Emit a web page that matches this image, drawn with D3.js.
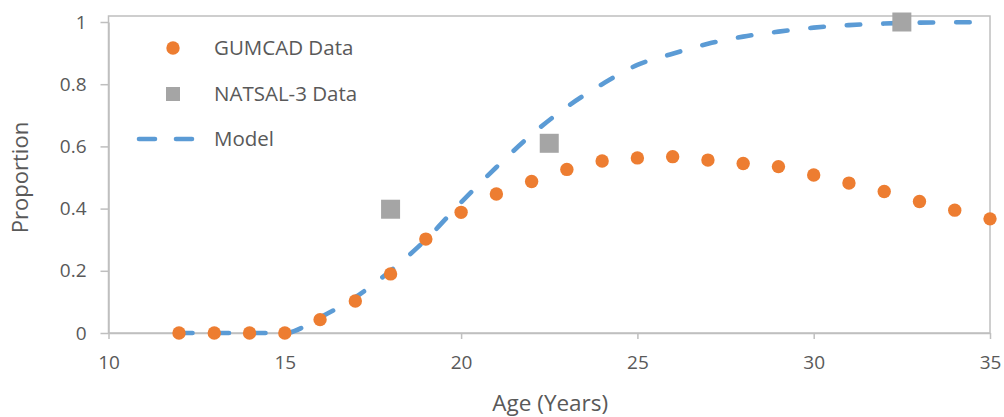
<!DOCTYPE html>
<html>
<head>
<meta charset="utf-8">
<script src="https://cdn.jsdelivr.net/npm/d3@7"></script>
<style>
  html, body { margin: 0; padding: 0; background: #fff; }
  svg { display: block; }
  text { font-family: "Open Sans", "Noto Sans", sans-serif; fill: #595959; }
</style>
</head>
<body>
<svg id="chart" width="1004" height="417"></svg>
<script>
// ---- Data ----
const gumcadAges = [12,13,14,15,16,17,18,19,20,21,22,23,24,25,26,27,28,29,30,31,32,33,34,35];
const gumcadValues = [0,0,0,0,0.043,0.103,0.19,0.302,0.388,0.447,0.487,0.526,0.553,0.563,0.567,0.556,0.545,0.535,0.508,0.482,0.455,0.423,0.395,0.367];

const natsalAges = [18, 22.5, 32.5];
const natsalValues = [0.398, 0.61, 1.0];

const modelAges = [12,13,14,15,16,17,18,19,20,21,22,23,24,25,26,27,28,29,30,31,32,33,34,35];
const modelValues = [0,0,0,0,0.05,0.115,0.2,0.3,0.42,0.533,0.638,0.727,0.80,0.862,0.898,0.93,0.953,0.969,0.982,0.99,0.995,0.998,0.999,1.0];

const xTicks = [10,15,20,25,30,35];
const yTicks = [0,0.2,0.4,0.6,0.8,1];
const yTickLabels = ["0","0.2","0.4","0.6","0.8","1"];

const legendLabels = ["GUMCAD Data","NATSAL-3 Data","Model"];

// ---- Colours ----
const orange = "#ED7D31", grey = "#A5A5A5", blue = "#5B9BD5", axisCol = "#BFBFBF";

const svg = d3.select("#chart");
const x = d3.scaleLinear().domain([10,35]).range([108.5,990]);
const y = d3.scaleLinear().domain([0,1]).range([333,22]);

// Frame (plot border)
const topY = y(1) - 6;
svg.append("rect")
  .attr("x", x(10)).attr("y", topY)
  .attr("width", x(35) - x(10)).attr("height", y(0) - topY)
  .attr("fill", "none").attr("stroke", axisCol).attr("stroke-width", 1.5);

// X axis
const xAxis = d3.axisBottom(x).tickValues(xTicks).tickSize(6).tickSizeOuter(0).tickPadding(17);
const gx = svg.append("g").attr("transform", `translate(0,${y(0)})`).call(xAxis);
gx.select(".domain").attr("stroke", axisCol).attr("stroke-width", 1.5);
gx.selectAll(".tick line").attr("stroke", axisCol).attr("stroke-width", 1.5);
gx.selectAll(".tick text").attr("font-size", 19).style("fill", "#595959");

// Y axis
const yAxis = d3.axisLeft(y).tickValues(yTicks).tickFormat((d,i) => yTickLabels[i]).tickSize(8).tickSizeOuter(0).tickPadding(14);
const gy = svg.append("g").attr("transform", `translate(${x(10)},0)`).call(yAxis);
gy.select(".domain").attr("stroke", axisCol).attr("stroke-width", 1.5);
gy.selectAll(".tick line").attr("stroke", axisCol).attr("stroke-width", 1.5);
gy.selectAll(".tick text").attr("font-size", 19).style("fill", "#595959");
gx.attr("font-family", null); gy.attr("font-family", null);

// Axis titles
svg.append("text").attr("x", (x(10)+x(35))/2 + 1).attr("y", 411)
  .attr("text-anchor", "middle").attr("font-size", 22.5).text("Age (Years)");
svg.append("text").attr("transform", `translate(28,${(y(0)+y(1))/2}) rotate(-90)`)
  .attr("text-anchor", "middle").attr("font-size", 22).text("Proportion");

// Model line
const line = d3.line().x(d => x(d[0])).y(d => y(d[1])).curve(d3.curveMonotoneX);
svg.append("path")
  .datum(modelAges.map((a,i) => [a, modelValues[i]]))
  .attr("d", line)
  .attr("fill", "none").attr("stroke", blue).attr("stroke-width", 4.6)
  .attr("stroke-linecap", "round").attr("stroke-dasharray", "13.5,23");

// GUMCAD circles
svg.append("g").selectAll("circle")
  .data(gumcadAges.map((a,i) => [a, gumcadValues[i]]))
  .join("circle")
  .attr("cx", d => x(d[0])).attr("cy", d => y(d[1])).attr("r", 6.7)
  .attr("fill", orange);

// NATSAL squares
const sq = 19;
svg.append("g").selectAll("rect")
  .data(natsalAges.map((a,i) => [a, natsalValues[i]]))
  .join("rect")
  .attr("x", d => x(d[0]) - sq/2).attr("y", d => y(d[1]) - sq/2)
  .attr("width", sq).attr("height", sq).attr("fill", grey);

// Legend
const lg = svg.append("g");
const lgRows = [48, 94, 139];
lg.append("circle").attr("cx", 173).attr("cy", lgRows[0]).attr("r", 6.7).attr("fill", orange);
lg.append("rect").attr("x", 166).attr("y", lgRows[1]-7).attr("width", 14).attr("height", 14).attr("fill", grey);
lg.append("line").attr("x1", 139).attr("x2", 195).attr("y1", lgRows[2]).attr("y2", lgRows[2])
  .attr("stroke", blue).attr("stroke-width", 4.6).attr("stroke-linecap", "round")
  .attr("stroke-dasharray", "16,21");
lg.selectAll("text.lg").data(legendLabels).join("text").attr("class","lg")
  .attr("x", 214).attr("y", (d,i) => lgRows[i]).attr("dy", "0.35em")
  .attr("font-size", 20.5).text(d => d);
</script>
</body>
</html>
